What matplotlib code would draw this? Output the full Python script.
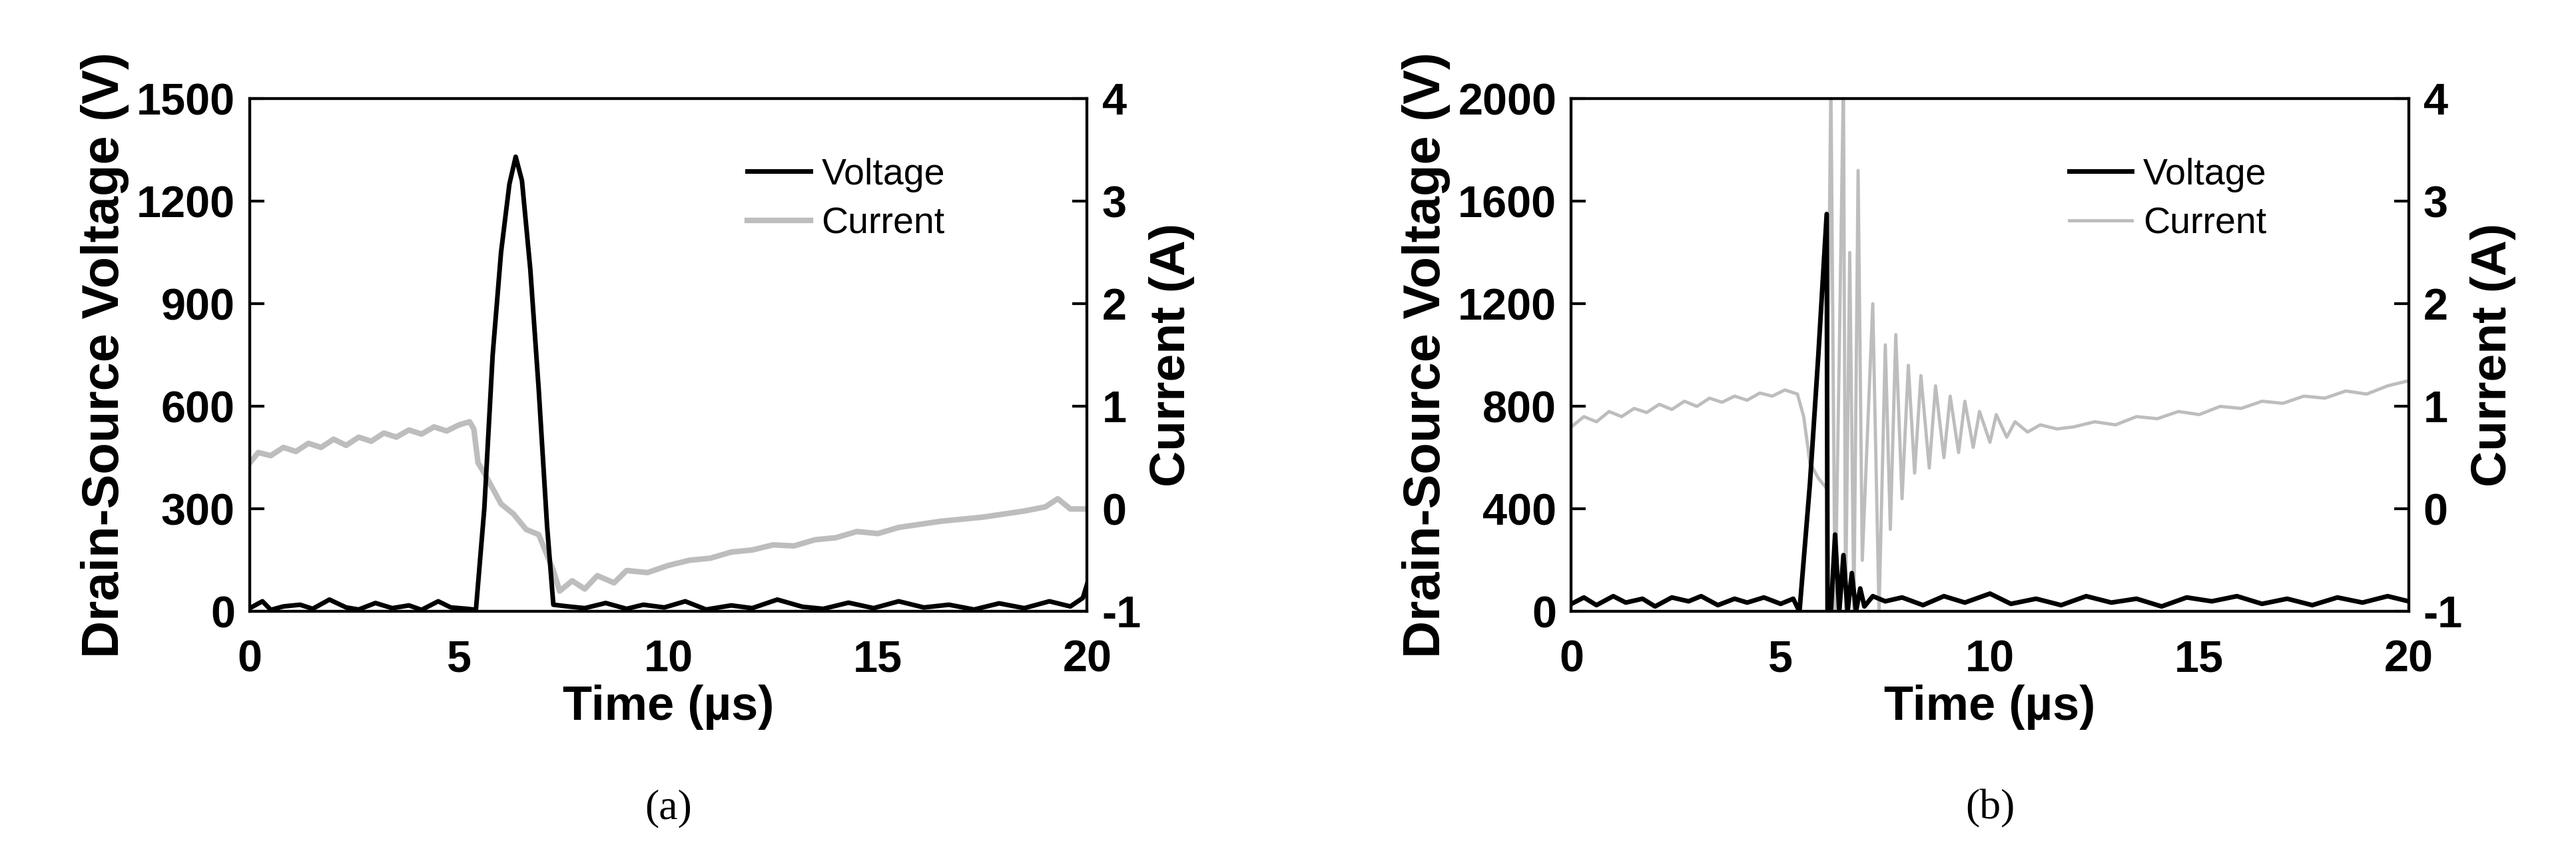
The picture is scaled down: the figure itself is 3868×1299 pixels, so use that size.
import matplotlib.pyplot as plt
import matplotlib as mpl

mpl.rcParams['font.family'] = ['Liberation Sans', 'DejaVu Sans']
mpl.rcParams['font.weight'] = 'bold'
mpl.rcParams['axes.unicode_minus'] = False

# ---- panel (a) data ----
a_v_t = [0, 0.3, 0.5, 0.8, 1.2, 1.5, 1.9, 2.3, 2.6, 3.0, 3.4, 3.8, 4.1, 4.5, 4.8, 5.2, 5.4,
         5.6, 5.8, 6.0, 6.2, 6.35, 6.5, 6.7, 6.9, 7.1, 7.25,
         7.6, 8.0, 8.5, 9.0, 9.4, 9.9, 10.4, 10.9, 11.5, 12.0, 12.6, 13.2, 13.7, 14.3, 14.9,
         15.5, 16.1, 16.7, 17.3, 17.9, 18.5, 19.1, 19.6, 19.9, 20]
a_v = [10, 30, 5, 15, 20, 8, 35, 12, 6, 25, 10, 18, 5, 30, 12, 8, 5,
       300, 750, 1050, 1250, 1330, 1260, 1000, 650, 250, 20,
       15, 10, 25, 8, 20, 12, 30, 6, 18, 10, 35, 14, 8, 26, 10,
       30, 12, 20, 6, 24, 10, 30, 15, 40, 80]
a_i_t = [0, 0.2, 0.5, 0.8, 1.1, 1.4, 1.7, 2.0, 2.3, 2.6, 2.9, 3.2, 3.5, 3.8, 4.1, 4.4,
         4.7, 5.0, 5.25, 5.35, 5.45, 5.6, 5.8, 6.0, 6.3, 6.6, 6.9, 7.1, 7.25, 7.4,
         7.7, 8.0, 8.3, 8.7, 9.0, 9.5, 10.0, 10.5, 11.0, 11.5, 12.0, 12.5, 13.0, 13.5,
         14.0, 14.5, 15.0, 15.5, 16.0, 16.5, 17.0, 17.5, 18.0, 18.5, 19.0, 19.3, 19.6, 20]
a_i = [0.45, 0.55, 0.52, 0.6, 0.56, 0.64, 0.6, 0.68, 0.62, 0.7, 0.66, 0.74, 0.7, 0.77, 0.73, 0.8,
       0.76, 0.82, 0.85, 0.78, 0.45, 0.35, 0.2, 0.05, -0.05, -0.2, -0.25, -0.45, -0.6, -0.8,
       -0.7, -0.78, -0.65, -0.72, -0.6, -0.62, -0.55, -0.5, -0.48, -0.42, -0.4, -0.35, -0.36, -0.3,
       -0.28, -0.22, -0.24, -0.18, -0.15, -0.12, -0.1, -0.08, -0.05, -0.02, 0.02, 0.1, 0.0, 0.0]

# ---- panel (b) data ----
b_v_t = [0, 0.3, 0.6, 1.0, 1.3, 1.7, 2.0, 2.4, 2.8, 3.1, 3.5, 3.9, 4.2, 4.6, 5.0, 5.3, 5.45,
         5.7, 5.9, 6.1, 6.12, 6.2, 6.3, 6.4, 6.5, 6.6, 6.7, 6.8, 6.9, 7.0, 7.2, 7.5,
         7.9, 8.4, 8.9, 9.4, 10.0, 10.5, 11.1, 11.7, 12.3, 12.9, 13.5, 14.1, 14.7, 15.3,
         15.9, 16.5, 17.1, 17.7, 18.3, 18.9, 19.5, 20]
b_v = [30, 55, 25, 60, 35, 50, 20, 55, 40, 60, 25, 50, 35, 55, 30, 50, 0,
       500, 1000, 1550, 0, 0, 300, 0, 220, 0, 150, 0, 90, 20, 60, 40,
       55, 25, 60, 35, 70, 30, 50, 25, 60, 35, 50, 20, 55, 40,
       60, 30, 50, 25, 55, 35, 60, 40]
b_i_t = [0, 0.3, 0.6, 0.9, 1.2, 1.5, 1.8, 2.1, 2.4, 2.7, 3.0, 3.3, 3.6, 3.9, 4.2, 4.5,
         4.8, 5.1, 5.4, 5.55, 5.7, 5.9, 6.1, 6.2, 6.3, 6.4, 6.5, 6.55, 6.65, 6.75, 6.85, 6.95,
         7.05, 7.2, 7.35, 7.5, 7.62, 7.75, 7.9, 8.05, 8.2, 8.35, 8.55, 8.7, 8.9, 9.05,
         9.25, 9.4, 9.6, 9.75, 10.0, 10.15, 10.4, 10.6, 10.9, 11.2, 11.6, 12.0, 12.5,
         13.0, 13.5, 14.0, 14.5, 15.0, 15.5, 16.0, 16.5, 17.0, 17.5, 18.0, 18.5, 19.0,
         19.5, 20]
b_i = [0.8, 0.9, 0.85, 0.95, 0.9, 0.98, 0.94, 1.02, 0.97, 1.05, 1.0, 1.08, 1.04, 1.1, 1.06, 1.13,
       1.1, 1.16, 1.12, 0.9, 0.45, 0.3, 0.2, 4.2, -1.0, 1.5, 4.2, -1.0, 2.5, -1.0, 3.3, -0.5,
       0.5, 2.0, -1.0, 1.6, -0.2, 1.7, 0.1, 1.4, 0.35, 1.3, 0.4, 1.2, 0.5, 1.1,
       0.55, 1.05, 0.6, 0.95, 0.65, 0.92, 0.7, 0.85, 0.75, 0.82, 0.78, 0.8, 0.85,
       0.82, 0.9, 0.88, 0.95, 0.92, 1.0, 0.98, 1.05, 1.03, 1.1, 1.08, 1.15, 1.12,
       1.2, 1.25]

panels = [
    dict(vt=a_v_t, v=a_v, it=a_i_t, i=a_i, vmax=1500, vticks=[0, 300, 600, 900, 1200, 1500],
         ilw=6, label='(a)', rect=[0.097, 0.293, 0.325, 0.593]),
    dict(vt=b_v_t, v=b_v, it=b_i_t, i=b_i, vmax=2000, vticks=[0, 400, 800, 1200, 1600, 2000],
         ilw=3.5, label='(b)', rect=[0.61, 0.293, 0.325, 0.593]),
]

fig = plt.figure(figsize=(38.68, 12.99), dpi=100)
for p in panels:
    ax = fig.add_axes(p['rect'])
    ax2 = ax.twinx()
    lv, = ax.plot(p['vt'], p['v'], color='black', lw=5, zorder=3)
    li, = ax2.plot(p['it'], p['i'], color='#bdbdbd', lw=p['ilw'])
    ax.set_zorder(ax2.get_zorder() + 1)
    ax.patch.set_visible(False)
    ax.set_xlim(0, 20)
    ax.set_ylim(0, p['vmax'])
    ax2.set_ylim(-1, 4)
    ax.set_xticks([0, 5, 10, 15, 20])
    ax.set_yticks(p['vticks'])
    ax2.set_yticks([-1, 0, 1, 2, 3, 4])
    ax.tick_params(axis='x', length=0, labelsize=48, pad=30)
    ax.tick_params(axis='y', direction='in', length=16, width=3, labelsize=48, pad=16)
    ax2.tick_params(axis='y', direction='in', length=16, width=3, labelsize=48, pad=16)
    for a in (ax, ax2):
        for s in a.spines.values():
            s.set_linewidth(3)
    ax.set_xlabel('Time (µs)', fontsize=52, fontweight='bold', labelpad=4)
    ax.set_ylabel('Drain-Source Voltage (V)', fontsize=56, fontweight='bold', labelpad=8)
    ax2.set_ylabel('Current (A)', fontsize=54, fontweight='bold', labelpad=8)
    ax.legend([lv, li], ['Voltage', 'Current'], loc='upper right', bbox_to_anchor=(0.87, 0.95),
              frameon=False, handlelength=1.7, handletextpad=0.3,
              labelspacing=0.4, prop={'size': 40, 'weight': 'normal'})
    x0, y0, w, h = p['rect']
    fig.text(x0 + w / 2, 0.065, p['label'], ha='center', va='center',
             fontsize=46, fontweight='normal', family='Liberation Serif')

fig.savefig('out.png', dpi=100)
